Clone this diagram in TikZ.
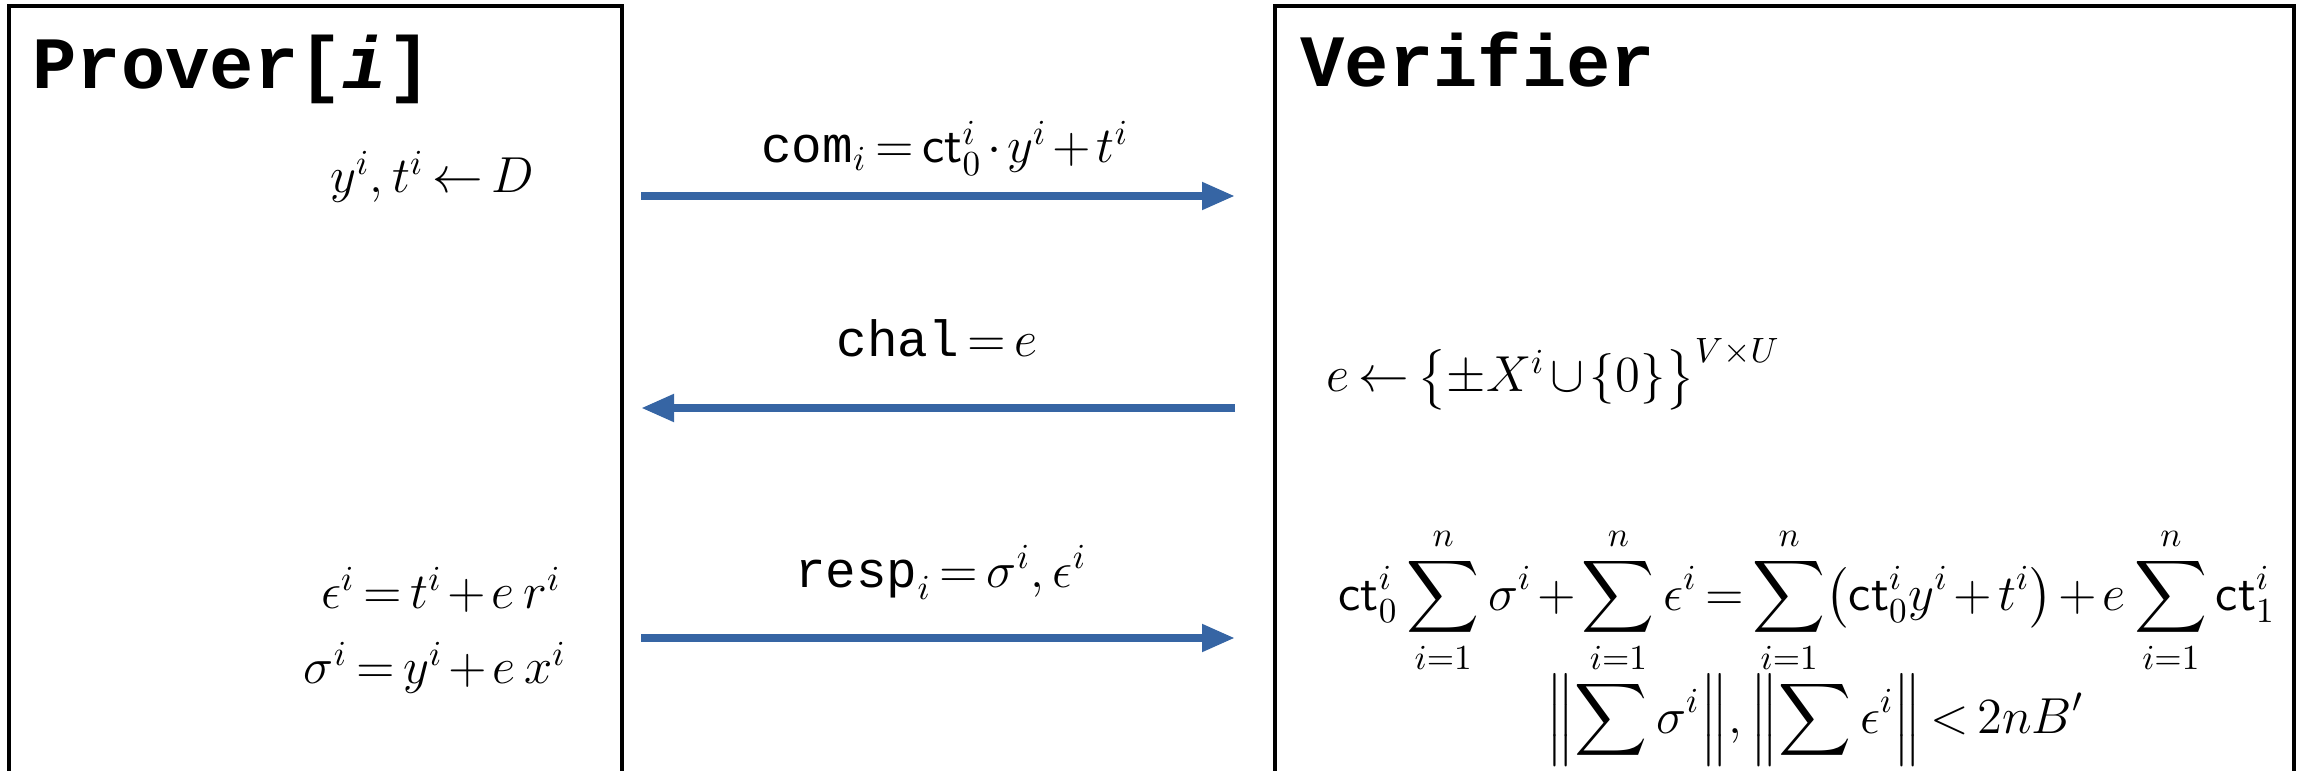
\documentclass[tikz,border=0pt]{standalone}
\usepackage{amsmath}
\usepackage{fontspec}
\setmonofont{Liberation Mono}
\usetikzlibrary{arrows.meta,positioning,calc}
\definecolor{msgblue}{RGB}{54,101,164}
\thickmuskip=3mu plus 2mu
\medmuskip=2mu plus 1mu

\begin{document}
\begin{tikzpicture}[
  partybox/.style={rectangle,draw=black,line width=1pt,anchor=north west,inner sep=0pt},
  partytitle/.style={font=\fontsize{21}{24}\selectfont\ttfamily\bfseries,anchor=base west,inner sep=0pt},
  mathtext/.style={font=\fontsize{14.5}{17}\selectfont,inner sep=0pt},
  msgarr/.style={-{Triangle[length=3.3mm,width=2.6mm]},line width=2.2pt,color=msgblue}
]
\useasboundingbox (0,0) rectangle (23.05,-7.71);
\clip (0,0) rectangle (23.05,-7.71);

% the two parties
\node[partybox,minimum width=6.13cm,minimum height=8.5cm] (prover) at (0.07,-0.04) {};
\node[partybox,minimum width=10.19cm,minimum height=8.5cm] (verifier) at (12.73,-0.04) {};
\node[partytitle] (provertitle) at (0.32,-0.89) {Prover[\textit{i}]};
\node[partytitle] (verifiertitle) at (13.00,-0.87) {Verifier};

% prover side
\node[mathtext,anchor=base] (sample) at (4.32,-1.93) {$y^i,t^i\leftarrow D$};
\node[mathtext,anchor=base] (epsresp) at (4.41,-6.09) {$\epsilon^i=t^i+e\,r^i$};
\node[mathtext,anchor=base] (sigresp) at (4.35,-6.84) {$\sigma^i=y^i+e\,x^i$};

% verifier side
\node[mathtext,anchor=base west] (chalpick) at (13.26,-3.92)
    {$e\leftarrow\bigl\{\pm X^i\cup\{0\}\bigr\}^{V\times U}$};
\node[mathtext,anchor=base west] (check) at (13.38,-6.10)
    {$\displaystyle \mathsf{ct}_0^i\sum_{i=1}^n\sigma^i+\sum_{i=1}^n\epsilon^i=\sum_{i=1}^n\bigl(\mathsf{ct}_0^i y^i+t^i\bigr)+e\sum_{i=1}^n\mathsf{ct}_1^i$};
\node[mathtext,anchor=base] (bound) at (18.15,-7.33)
    {$\displaystyle\Bigl\|\sum\sigma^i\Bigr\|,\Bigl\|\sum\epsilon^i\Bigr\|<2nB'$};

% messages
\coordinate (comL) at (6.41,-1.96);
\coordinate (comR) at (12.35,-1.96);
\coordinate (chalL) at (6.41,-4.08);
\coordinate (chalR) at (12.35,-4.08);
\coordinate (respL) at (6.41,-6.38);
\coordinate (respR) at (12.35,-6.38);

\draw[msgarr] (comL) -- (comR);
\draw[msgarr] (chalR) -- (chalL);
\draw[msgarr] (respL) -- (respR);

\node[mathtext,anchor=base] (comlbl) at ($(comL)!0.5!(comR)+(0.07,0.33)$)
    {$\texttt{com}_i=\mathsf{ct}_0^i\cdot y^i+t^i$};
\node[mathtext,anchor=base] (challbl) at ($(chalL)!0.5!(chalR)+(-0.01,0.51)$)
    {$\texttt{chal}=e$};
\node[mathtext,anchor=base] (resplbl) at ($(respL)!0.5!(respR)+(0.03,0.51)$)
    {$\texttt{resp}_i=\sigma^i,\epsilon^i$};

\end{tikzpicture}
\end{document}
